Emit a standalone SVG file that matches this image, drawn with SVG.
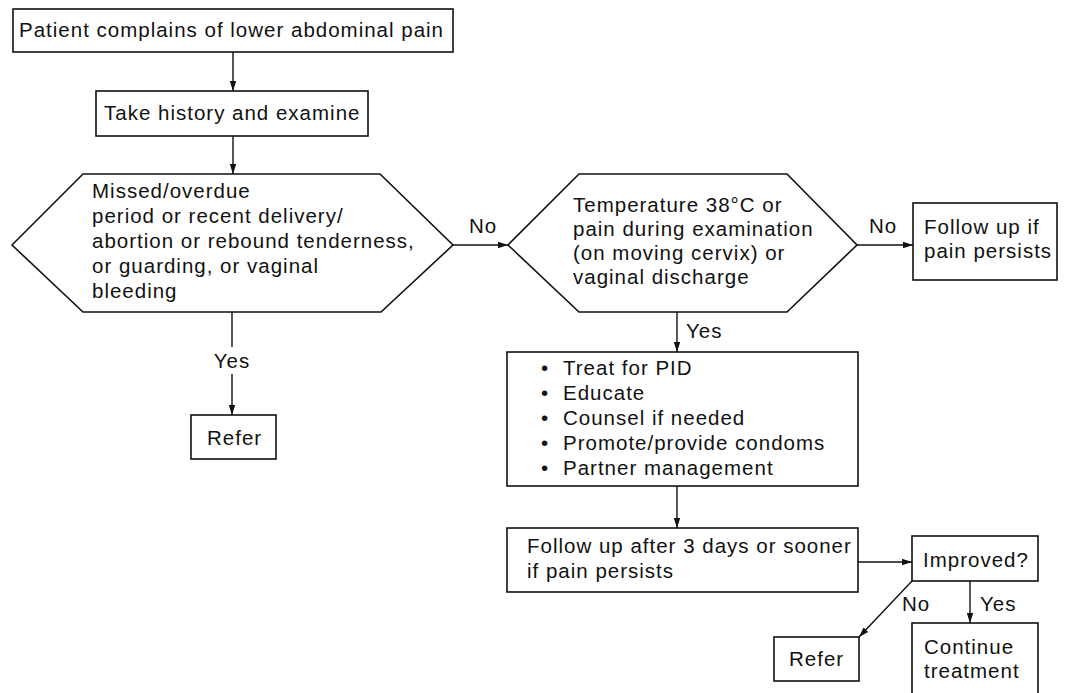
<svg xmlns="http://www.w3.org/2000/svg" width="1065" height="693" viewBox="0 0 1065 693">
<style>
.n{fill:#fff;stroke:#111;stroke-width:1.6}
.t{font-family:"Liberation Sans",Arial,sans-serif;font-size:20.5px;letter-spacing:1px;fill:#111}
.c{fill:none;stroke:#111;stroke-width:1.4}
</style>
<defs>
<marker id="ah" markerUnits="userSpaceOnUse" markerWidth="10" markerHeight="8" refX="10" refY="4" orient="auto">
<path d="M0,0.8 L10,4 L0,7.2 z" fill="#111"/>
</marker>
</defs>
<rect width="1065" height="693" fill="#fff"/>
<g id="connectors">
<line class="c" x1="233" y1="52" x2="233" y2="91" marker-end="url(#ah)"/>
<line class="c" x1="233" y1="136" x2="233" y2="174" marker-end="url(#ah)"/>
<line class="c" x1="232" y1="312" x2="232" y2="347"/>
<line class="c" x1="232" y1="374" x2="232" y2="415" marker-end="url(#ah)"/>
<text class="t" x="232" y="368" text-anchor="middle">Yes</text>
<line class="c" x1="453" y1="245" x2="508" y2="245" marker-end="url(#ah)"/>
<text class="t" x="469" y="233">No</text>
<line class="c" x1="857" y1="245" x2="913" y2="245" marker-end="url(#ah)"/>
<text class="t" x="869" y="233">No</text>
<line class="c" x1="677" y1="312" x2="677" y2="352" marker-end="url(#ah)"/>
<text class="t" x="686" y="338">Yes</text>
<line class="c" x1="677" y1="486" x2="677" y2="528" marker-end="url(#ah)"/>
<line class="c" x1="858" y1="562" x2="912" y2="562" marker-end="url(#ah)"/>
<line class="c" x1="912" y1="581" x2="859" y2="637" marker-end="url(#ah)"/>
<text class="t" x="902" y="611">No</text>
<line class="c" x1="970" y1="581" x2="970" y2="623" marker-end="url(#ah)"/>
<text class="t" x="980" y="611">Yes</text>
</g>
<g id="start">
<rect class="n" x="13" y="9" width="440" height="43"/>
<text class="t" x="19" y="37">Patient complains of lower abdominal pain</text>
</g>
<g id="history">
<rect class="n" x="96" y="91" width="272" height="45"/>
<text class="t" x="104" y="120">Take history and examine</text>
</g>
<g id="decision1">
<polygon class="n" points="12,245 83,174 380,174 453,245 381,312 83,312"/>
<text class="t" x="92" y="198">Missed/overdue</text>
<text class="t" x="92" y="223">period or recent delivery/</text>
<text class="t" x="92" y="248">abortion or rebound tenderness,</text>
<text class="t" x="92" y="273">or guarding, or vaginal</text>
<text class="t" x="92" y="298">bleeding</text>
</g>
<g id="refer1">
<rect class="n" x="191" y="415" width="85" height="44"/>
<text class="t" x="207" y="445">Refer</text>
</g>
<g id="decision2">
<polygon class="n" points="508,245 579,174 787,174 857,245 787,312 579,312"/>
<text class="t" x="573" y="212">Temperature 38°C or</text>
<text class="t" x="573" y="236">pain during examination</text>
<text class="t" x="573" y="260">(on moving cervix) or</text>
<text class="t" x="573" y="284">vaginal discharge</text>
</g>
<g id="followup1">
<rect class="n" x="913" y="203" width="144" height="77"/>
<text class="t" x="924" y="234">Follow up if</text>
<text class="t" x="924" y="258">pain persists</text>
</g>
<g id="treat">
<rect class="n" x="507" y="352" width="351" height="134"/>
<text class="t" x="541" y="375">•</text><text class="t" x="563" y="375">Treat for PID</text>
<text class="t" x="541" y="400">•</text><text class="t" x="563" y="400">Educate</text>
<text class="t" x="541" y="425">•</text><text class="t" x="563" y="425">Counsel if needed</text>
<text class="t" x="541" y="450">•</text><text class="t" x="563" y="450">Promote/provide condoms</text>
<text class="t" x="541" y="475">•</text><text class="t" x="563" y="475">Partner management</text>
</g>
<g id="followup2">
<rect class="n" x="507" y="528" width="351" height="64"/>
<text class="t" x="527" y="553">Follow up after 3 days or sooner</text>
<text class="t" x="527" y="578">if pain persists</text>
</g>
<g id="improved">
<rect class="n" x="912" y="536" width="126" height="45"/>
<text class="t" x="923" y="567">Improved?</text>
</g>
<g id="refer2">
<rect class="n" x="774" y="637" width="85" height="44"/>
<text class="t" x="789" y="666">Refer</text>
</g>
<g id="continue">
<rect class="n" x="912" y="623" width="126" height="80"/>
<text class="t" x="924" y="654">Continue</text>
<text class="t" x="924" y="678">treatment</text>
</g>
</svg>
